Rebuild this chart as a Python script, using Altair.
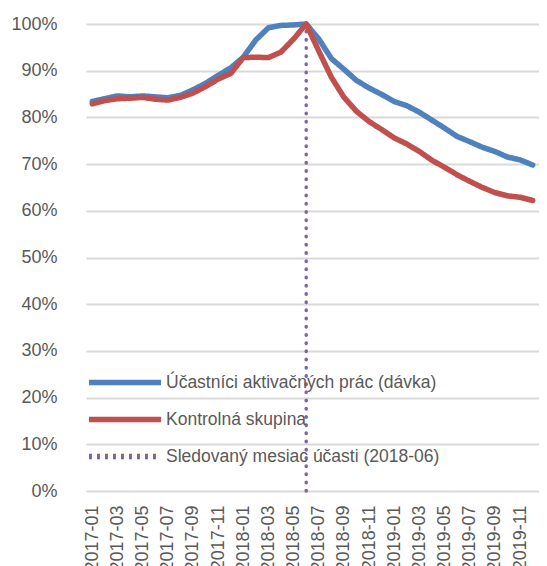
import altair as alt
import pandas as pd

months = [f"{y}-{m:02d}" for y in (2017, 2018, 2019) for m in range(1, 13)]
tick_months = [m for i, m in enumerate(months) if i % 2 == 0]

blue_name = "Účastníci aktivačných prác (dávka)"
red_name = "Kontrolná skupina"
rule_name = "Sledovaný mesiac účasti (2018-06)"
rule_month = "2018-06"

blue = [83.4, 84.0, 84.6, 84.4, 84.6, 84.4, 84.2, 84.7, 85.9, 87.3, 89.0, 90.6,
        92.9, 96.6, 99.2, 99.7, 99.8, 100.0, 96.8, 92.6, 90.3, 87.9, 86.3, 84.9,
        83.4, 82.5, 81.1, 79.4, 77.7, 75.9, 74.8, 73.6, 72.7, 71.5, 70.9, 69.8]
red = [82.9, 83.6, 84.0, 84.1, 84.3, 83.9, 83.7, 84.3, 85.2, 86.6, 88.2, 89.4,
       92.8, 92.9, 92.8, 94.0, 96.8, 100.0, 94.2, 88.6, 84.3, 81.3, 79.1, 77.4,
       75.6, 74.3, 72.7, 70.8, 69.3, 67.7, 66.3, 65.0, 63.9, 63.2, 62.9, 62.2]

series_names = [blue_name, red_name, rule_name]
series_colors = ["#4f81bd", "#c0504d", "#8064a2"]
series_dash = [[1, 0], [1, 0], [3, 5]]
series_width = [5.5, 5.5, 3.5]

rows = []
for name, vals in ((blue_name, blue), (red_name, red)):
    for m, v in zip(months, vals):
        rows.append({"month": m, "value": v / 100, "series": name})
lines_df = pd.DataFrame(rows)
rule_df = pd.DataFrame([{"month": rule_month, "lo": 0.0, "hi": 1.0}])

FONT = "Liberation Sans"
TXT = "#595959"


def make_legend():
    return alt.Legend(
        title=None, orient="none", legendX=6, legendY=340,
        symbolType="stroke", symbolSize=5184,
        labelFontSize=17.5, labelFont=FONT, labelColor=TXT, labelOffset=2,
        clipHeight=37, rowPadding=0, padding=0, labelLimit=400,
    )


x_scale = alt.Scale(type="point", domain=months, range=[6, 459])
x_enc = alt.X("month:N", sort=months, scale=x_scale,
              axis=alt.Axis(values=tick_months, labelAngle=-90, labelFontSize=18,
                            labelColor=TXT, labelFont=FONT, labelPadding=14,
                            ticks=False, domain=False, grid=False, title=None,
                            labelLimit=200))

lines = alt.Chart(lines_df).mark_line(strokeJoin="round", strokeCap="round").encode(
    x=x_enc,
    y=alt.Y("value:Q", scale=alt.Scale(domain=[0, 1], nice=False),
            axis=alt.Axis(format=".0%", values=[i / 10 for i in range(11)],
                          labelFontSize=18, labelColor=TXT, labelFont=FONT,
                          labelPadding=23, ticks=False, domain=False,
                          gridColor="#d9d9d9", gridWidth=2, title=None)),
    color=alt.Color("series:N", scale=alt.Scale(domain=series_names, range=series_colors),
                    legend=make_legend()),
    strokeDash=alt.StrokeDash("series:N", scale=alt.Scale(domain=series_names, range=series_dash),
                              legend=make_legend()),
    strokeWidth=alt.StrokeWidth("series:N", scale=alt.Scale(domain=series_names, range=series_width),
                                legend=make_legend()),
)

rule = alt.Chart(rule_df).mark_rule(strokeWidth=3.5, strokeCap="round",
                                    strokeDash=[0.5, 7.7], color="#8064a2").encode(
    x=alt.X("month:N", sort=months),
    y=alt.Y("lo:Q"),
    y2=alt.Y2("hi:Q"),
)

chart = alt.layer(rule, lines).properties(
    width=459, height=467,
    autosize=alt.AutoSizeParams(type="none"),
    padding={"left": 72, "top": 16, "right": 0, "bottom": 75},
).configure_view(stroke=None)

chart.save("out.html", embed_options={"renderer": "svg", "actions": False})
